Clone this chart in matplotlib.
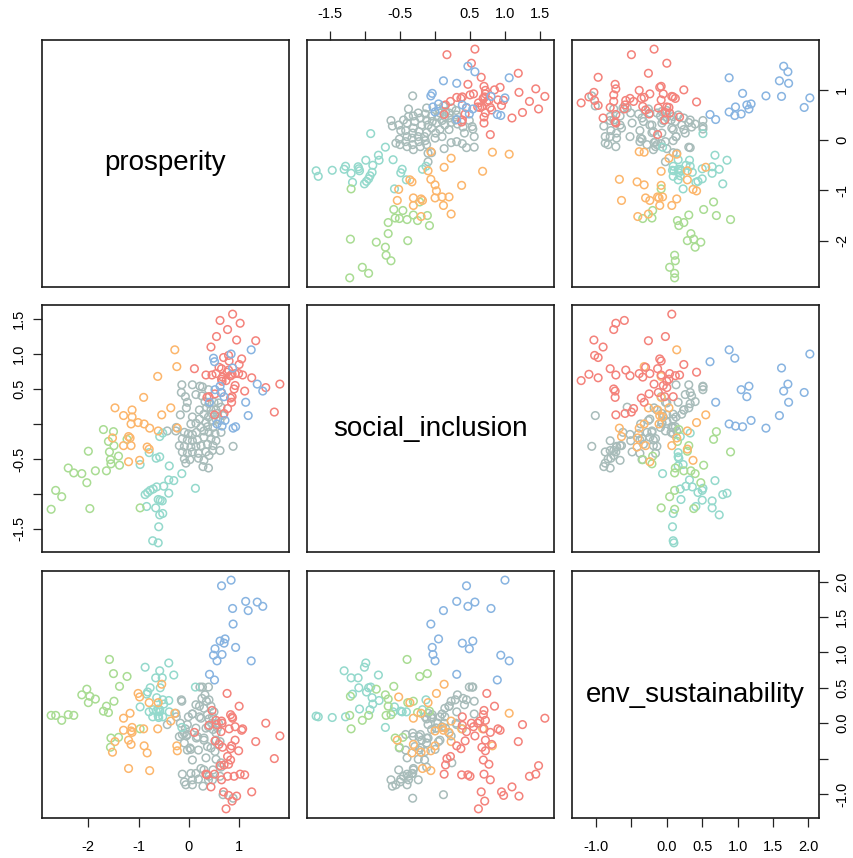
"""
Scatterplot matrix of the three wellbeing indices, coloured by cluster.
"""

import matplotlib
matplotlib.use("Agg")
import matplotlib.pyplot as plt


# Points per cluster as (prosperity, social_inclusion, env_sustainability)

gray_pts = [
    (-0.43, -0.10, -0.02), (-0.26, -0.10, 0.14), (-0.25, -0.05, 0.09),
    (-0.19, -0.31, -0.19), (-0.17, 0.13, 0.00), (-0.15, 0.45, 0.33),
    (-0.14, 0.56, 0.31), (-0.13, -0.21, -0.16), (-0.13, -0.40, -0.72),
    (-0.09, -0.12, -0.28), (-0.09, -0.32, -0.14), (-0.09, -0.50, -0.83),
    (-0.07, 0.39, -0.08), (-0.06, -0.56, -0.87), (-0.05, 0.23, -0.18),
    (-0.03, 0.31, -0.02), (-0.03, -0.23, -0.38), (-0.03, -0.42, -0.16),
    (-0.01, -0.14, 0.09), (0.02, -0.51, -0.35), (0.04, 0.00, -0.37),
    (0.04, -0.33, -0.71), (0.07, 0.56, 0.13), (0.07, 0.10, 0.13),
    (0.07, -0.15, -0.52), (0.07, -0.24, -0.80), (0.07, -0.40, -0.87),
    (0.14, 0.42, 0.26), (0.14, 0.01, -0.07), (0.14, -0.32, -0.71),
    (0.15, -0.12, -0.21), (0.17, -0.23, -0.19), (0.19, -0.42, -0.38),
    (0.19, -0.49, -0.79), (0.21, 0.20, 0.24), (0.21, 0.07, 0.09),
    (0.22, 0.54, 0.51), (0.24, -0.05, 0.07), (0.24, -0.31, -0.64),
    (0.26, 0.40, 0.35), (0.27, 0.53, 0.51), (0.28, -0.61, -0.89),
    (0.30, 0.14, 0.21), (0.30, -0.10, -0.21), (0.30, -0.19, -0.24),
    (0.30, -0.52, -0.66), (0.32, 0.32, 0.40), (0.34, 0.02, -0.07),
    (0.34, -0.40, -0.49), (0.35, 0.23, 0.31), (0.37, -0.04, 0.12),
    (0.37, -0.29, -0.33), (0.39, 0.49, 0.51), (0.39, 0.10, -0.05),
    (0.39, -0.63, -0.80), (0.40, 0.29, 0.33), (0.40, -0.12, 0.06),
    (0.40, -0.45, -0.75), (0.44, 0.20, 0.24), (0.44, -0.21, -0.35),
    (0.46, 0.04, 0.00), (0.47, 0.14, 0.09), (0.47, -0.38, -0.80),
    (0.48, -0.05, -0.09), (0.48, -0.31, -0.66), (0.50, 0.31, 0.16),
    (0.52, -0.14, -0.40), (0.54, 0.20, -0.14), (0.54, 0.07, -0.24),
    (0.54, -0.24, -0.51), (0.57, 0.15, -0.07), (0.59, 0.30, 0.00),
    (0.62, 0.05, -0.26), (0.62, -0.38, -0.75), (0.64, 0.24, -0.56),
    (0.64, -0.12, -0.62), (0.68, 0.12, -1.01), (0.88, -0.32, -1.06),
]

teal_pts = [
    (-0.97, -0.58, 0.23), (-0.87, -1.01, 0.79), (-0.84, -1.18, 0.41),
    (-0.82, -0.98, 0.44), (-0.79, -0.41, 0.16), (-0.77, -0.95, 0.50),
    (-0.72, -1.67, 0.09), (-0.71, -0.93, 0.19), (-0.66, -1.20, 0.64),
    (-0.65, -0.49, 0.17), (-0.64, -0.90, 0.36), (-0.61, -1.08, 0.20),
    (-0.61, -1.70, 0.10), (-0.60, -1.47, 0.08), (-0.58, -0.18, 0.19),
    (-0.58, -0.47, 0.16), (-0.58, -1.30, 0.74), (-0.57, -1.09, 0.50),
    (-0.53, -1.10, 0.64), (-0.52, -0.13, 0.33), (-0.52, -1.28, 0.09),
    (-0.50, -0.89, 0.27), (-0.40, -0.99, 0.85), (-0.40, -0.80, 0.32),
    (-0.39, -0.60, 0.16), (-0.30, -0.81, 0.68), (-0.14, -0.71, -0.06),
    (0.13, -0.92, 0.51),
]

green_pts = [
    (-2.74, -1.22, 0.11), (-2.65, -0.95, 0.11), (-2.53, -1.04, 0.04),
    (-2.40, -0.63, 0.12), (-2.29, -0.70, 0.11), (-2.13, -0.71, 0.40),
    (-2.03, -0.84, 0.48), (-2.00, -0.39, 0.29), (-1.97, -1.21, 0.38),
    (-1.86, -0.67, 0.34), (-1.70, -0.08, 0.17), (-1.64, -0.67, 0.24),
    (-1.60, -0.25, 0.15), (-1.58, -0.40, 0.90), (-1.56, -0.51, -0.34),
    (-1.55, -0.57, -0.21), (-1.50, -0.11, 0.70), (-1.49, -0.31, 0.31),
    (-1.40, -0.46, -0.20), (-1.38, -0.59, 0.52), (-1.23, -0.22, 0.66),
    (-0.97, -1.20, -0.08),
]

orange_pts = [
    (-1.52, -0.20, -0.41), (-1.47, 0.23, -0.26), (-1.30, 0.12, -0.10),
    (-1.30, -0.31, 0.07), (-1.20, -0.18, -0.64), (-1.20, -0.54, -0.24),
    (-1.17, -0.20, 0.14), (-1.15, 0.00, -0.11), (-1.15, -0.31, -0.30),
    (-1.13, 0.10, -0.06), (-1.13, 0.20, -0.13), (-1.01, 0.02, 0.42),
    (-0.98, -0.52, 0.37), (-0.90, 0.38, -0.08), (-0.89, 0.00, -0.32),
    (-0.83, -0.33, -0.42), (-0.79, -0.36, 0.29), (-0.78, -0.06, -0.67),
    (-0.62, 0.68, -0.08), (-0.61, -0.10, 0.29), (-0.54, 0.13, 0.55),
    (-0.36, 0.23, 0.03), (-0.28, 1.06, 0.14), (-0.24, 0.82, -0.32),
    (-0.23, -0.06, -0.39),
]

red_pts = [
    (0.76, 0.74, 0.42), (1.00, 0.85, 0.24), (0.46, 0.70, 0.18),
    (0.83, 0.69, 0.12), (0.86, 0.39, 0.09), (0.87, 1.57, 0.07),
    (0.54, 0.72, 0.04), (0.65, 0.64, 0.03), (0.66, 0.61, 0.00),
    (0.55, 1.25, -0.02), (0.40, 0.39, -0.03), (1.53, 0.52, 0.00),
    (0.92, 0.55, -0.05), (0.80, 0.90, -0.08), (1.07, 0.70, -0.08),
    (1.05, 0.93, -0.10), (0.11, 0.79, -0.13), (0.64, 0.45, -0.12),
    (1.81, 0.57, -0.18), (0.92, 0.72, -0.24), (1.33, 1.19, -0.26),
    (0.52, 0.43, -0.25), (0.60, 0.81, -0.30), (0.85, 0.31, -0.32),
    (0.83, 0.37, -0.36), (0.67, 0.67, -0.34), (0.99, 0.72, -0.39),
    (0.77, 0.22, -0.47), (1.70, 0.17, -0.50), (0.83, 0.69, -0.52),
    (0.70, 0.15, -0.59), (0.79, 0.77, -0.58), (0.62, 1.48, -0.60),
    (0.34, 0.70, -0.72), (1.02, 1.44, -0.72), (0.51, 0.13, -0.72),
    (0.36, 0.38, -0.73), (1.11, 0.47, -0.73), (0.77, 1.35, -0.75),
    (0.90, 0.50, -0.75), (0.65, 0.79, -0.80), (0.44, 1.10, -0.90),
    (0.69, 0.95, -0.97), (1.25, 0.66, -0.97), (0.79, 0.98, -1.02),
    (0.95, 1.20, -1.03), (0.86, 0.71, -1.10), (0.74, 0.62, -1.21),
]

blue_pts = [
    (0.84, 1.00, 2.02), (0.65, 0.45, 1.94), (1.13, 0.31, 1.72),
    (1.36, 0.57, 1.71), (1.47, 0.47, 1.65), (0.87, 0.80, 1.62),
    (1.18, 0.12, 1.59), (0.88, -0.06, 1.40), (0.72, 0.05, 1.19),
    (0.62, 0.54, 1.16), (0.70, 0.39, 1.13), (0.93, -0.04, 1.07),
    (0.52, 0.49, 1.05), (0.66, -0.03, 0.97), (0.49, 0.94, 0.96),
    (0.56, 0.00, 0.88), (1.24, 1.06, 0.88), (0.41, 0.31, 0.69),
    (0.51, 0.89, 0.61),
]

clusters = [
    (gray_pts, "#A8BCBA"),
    (teal_pts, "#94D9CC"),
    (green_pts, "#A9DC93"),
    (orange_pts, "#FCB66C"),
    (red_pts, "#F4827B"),
    (blue_pts, "#88B4E1"),
]

variables = ["prosperity", "social_inclusion", "env_sustainability"]

prosperity_ticks = [-2, -1, 0, 1]
prosperity_labels = ["-2", "-1", "0", "1"]
social_ticks = [-1.5, -1.0, -0.5, 0.0, 0.5, 1.0, 1.5]
social_labels = ["-1.5", "", "-0.5", "", "0.5", "1.0", "1.5"]
env_ticks = [-1.0, -0.5, 0.0, 0.5, 1.0, 1.5, 2.0]
env_labels = ["-1.0", "", "0.0", "0.5", "1.0", "1.5", "2.0"]

ticks = [(prosperity_ticks, prosperity_labels),
         (social_ticks, social_labels),
         (env_ticks, env_labels)]


plt.rcParams["font.family"] = ["Liberation Sans", "DejaVu Sans"]

# R-style ranges: data range padded by 4% on each side
all_pts = [p for pts, _ in clusters for p in pts]
limits = []
for k in range(3):
    vals = [p[k] for p in all_pts]
    lo, hi = min(vals), max(vals)
    pad = 0.04 * (hi - lo)
    limits.append((lo - pad, hi + pad))

W, H = 854, 858
fig = plt.figure(figsize=(W / 100, H / 100), dpi=100)

col_left = [42, 307, 572]
row_top = [40, 305, 571]
size = 247

for i in range(3):
    for j in range(3):
        ax = fig.add_axes([col_left[j] / W, 1 - (row_top[i] + size) / H,
                           size / W, size / H])
        ax.set_xlim(limits[j])
        ax.set_ylim(limits[i])
        for sp in ax.spines.values():
            sp.set_linewidth(1.2)
            sp.set_color("#1a1a1a")
        ax.tick_params(length=6.5, width=0.9, color="#222222",
                       labelsize=10.5, labelcolor="black")
        ax.set_xticks([])
        ax.set_yticks([])

        if i == j:
            ax.text(0.5, 0.5, variables[i], transform=ax.transAxes,
                    ha="center", va="center", fontsize=20)
        else:
            for pts, color in clusters:
                ax.scatter([p[j] for p in pts], [p[i] for p in pts],
                           s=30, facecolors="none", edgecolors=color,
                           linewidths=1.1)

        # axes alternate like R's pairs(): top/bottom, left/right
        if i == 0 and j == 1:
            ax.set_xticks(ticks[j][0], ticks[j][1])
            ax.tick_params(axis="x", top=True, bottom=False,
                           labeltop=True, labelbottom=False, pad=7)
        if i == 2 and j in (0, 2):
            ax.set_xticks(ticks[j][0], ticks[j][1])
            ax.tick_params(axis="x", pad=9)
        if j == 0 and i == 1:
            ax.set_yticks(ticks[i][0], ticks[i][1])
            ax.tick_params(axis="y", pad=5)
            plt.setp(ax.get_yticklabels(), rotation=90, va="center")
        if j == 2 and i in (0, 2):
            ax.set_yticks(ticks[i][0], ticks[i][1])
            ax.tick_params(axis="y", left=False, right=True,
                           labelleft=False, labelright=True, pad=5)
            plt.setp(ax.get_yticklabels(), rotation=90, va="center")

fig.savefig("out.png", dpi=100)
plt.close(fig)
